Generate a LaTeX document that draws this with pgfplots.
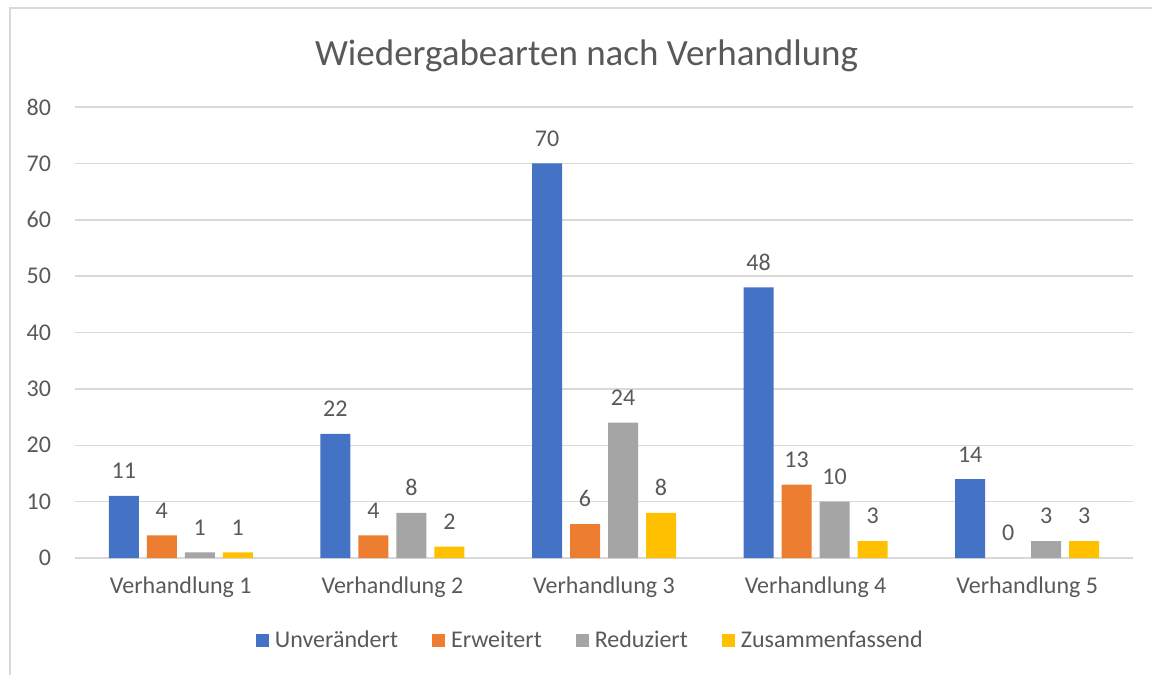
\documentclass[border=0pt]{standalone}
\usepackage{pgfplots}
\pgfplotsset{compat=1.18}
\usepackage{fontspec}
\setmainfont{Carlito}
\definecolor{cBlue}{HTML}{4472C4}
\definecolor{cOrange}{HTML}{ED7D31}
\definecolor{cGray}{HTML}{A5A5A5}
\definecolor{cYellow}{HTML}{FFC000}
\definecolor{cText}{HTML}{595959}
\definecolor{cGrid}{HTML}{D9D9D9}
\begin{document}
\begin{tikzpicture}
\path[use as bounding box] (-37.5pt,-58.5pt) rectangle (538.5pt,279pt);
\draw[cGrid, line width=0.75pt] (-32.5pt,-60pt) -- (-32.5pt,275pt) -- (540pt,275pt);
\begin{axis}[
  scale only axis,
  width=529pt, height=225.5pt,
  ybar=4pt, bar width=15pt,
  xmin=-0.5, xmax=4.5,
  ymin=0, ymax=80,
  ytick={0,10,...,80},
  xtick=data,
  xticklabels={Verhandlung 1,Verhandlung 2,Verhandlung 3,Verhandlung 4,Verhandlung 5},
  axis x line*=bottom,
  axis y line*=left,
  x axis line style={cGrid, line width=0.75pt, -},
  y axis line style={draw=none},
  major tick length=0pt,
  ymajorgrids,
  grid style={cGrid, line width=0.75pt},
  /pgf/number format/assume math mode=true,
  tick label style={font=\fontsize{12pt}{14pt}\selectfont, text=cText},
  xticklabel style={yshift=-6pt},
  yticklabel style={xshift=-8.5pt},
  ytick style={draw=none},
  nodes near coords,
  every node near coord/.append style={font=\fontsize{12pt}{14pt}\selectfont, text=cText, yshift=5pt},
  legend style={at={(0.488,-0.184)}, anchor=center, draw=none, legend columns=4,
    font=\fontsize{12pt}{14pt}\selectfont, text=cText,
    /tikz/every even column/.append style={column sep=15pt},
    /tikz/every odd column/.append style={column sep=1pt}},
  legend image code/.code={\fill[#1] (0pt,-3.25pt) rectangle (6.5pt,3.25pt);},
  clip=false,
]
\addplot[draw=none, fill=cBlue] coordinates {(0,11) (1,22) (2,70) (3,48) (4,14)};
\addplot[draw=none, fill=cOrange] coordinates {(0,4) (1,4) (2,6) (3,13) (4,0)};
\addplot[draw=none, fill=cGray] coordinates {(0,1) (1,8) (2,24) (3,10) (4,3)};
\addplot[draw=none, fill=cYellow] coordinates {(0,1) (1,2) (2,8) (3,3) (4,3)};
\legend{Unverändert,Erweitert,Reduziert,Zusammenfassend}
\node[font=\fontsize{18.5pt}{22pt}\selectfont, text=cText] at (axis description cs:0.4835,1.113) {Wiedergabearten nach Verhandlung};
\end{axis}
\end{tikzpicture}
\end{document}
